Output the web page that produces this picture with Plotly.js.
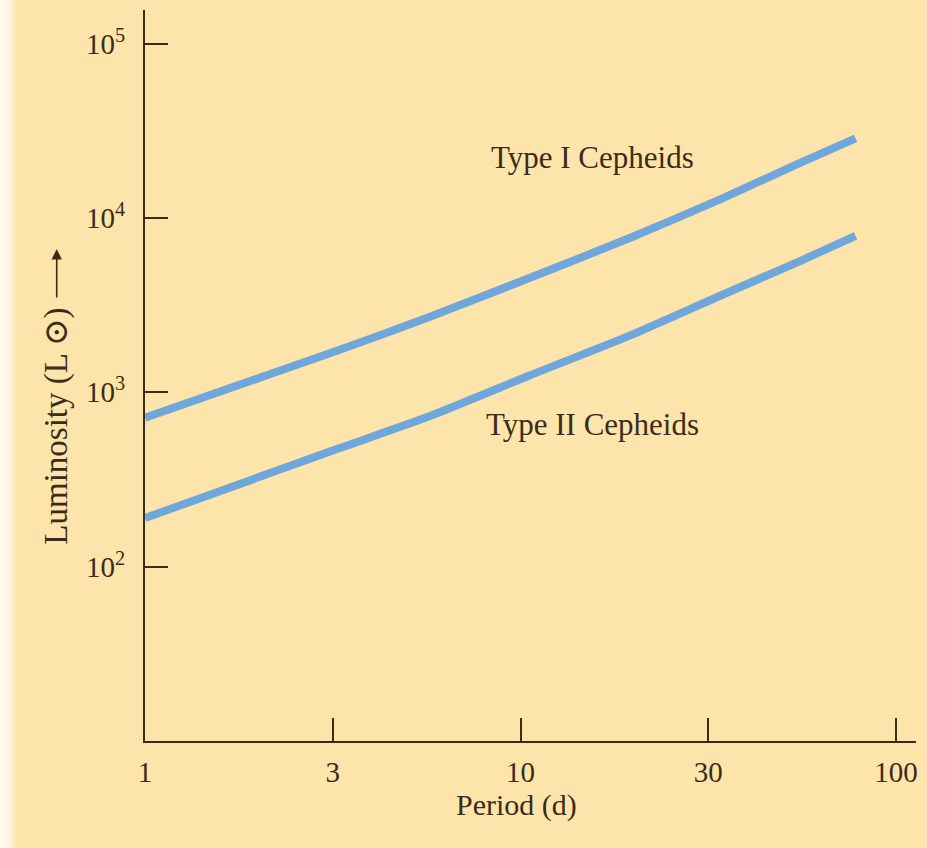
<!DOCTYPE html>
<html>
<head>
<meta charset="utf-8">
<script src="https://cdn.plot.ly/plotly-3.0.1.min.js"></script>
<style>
  html, body { margin: 0; padding: 0; }
  body { width: 927px; height: 848px; overflow: hidden;
         background: linear-gradient(to right, #fffaf1 0px, #fff6e6 9px, #fde4ab 17px, #fde4ab 100%); }
  #chart { width: 927px; height: 848px; }
</style>
</head>
<body>
<div id="chart"></div>
<script>
// Period in days
const periods = [1, 3.3, 5.74, 10.6, 19.6, 34, 55.5, 78];
// Luminosity in solar units
const typeI  = [716, 1754, 2716, 4539, 7709, 12790, 20700, 28600];
const typeII = [190, 479, 731, 1253, 2123, 3581, 5662, 7890];

const xTickVals = [1, 3.1623, 10, 31.623, 100];
const xTickText = ['1', '3', '10', '30', '100'];
const yTickVals = [100, 1000, 10000, 100000];
const yTickText = ['10<sup>2</sup>', '10<sup>3</sup>', '10<sup>4</sup>', '10<sup>5</sup>'];

const seriesNames = ['Type I Cepheids', 'Type II Cepheids'];

const lineColor = '#6fa6dc';
const inkColor = '#3b2c18';
const serif = '"Liberation Serif", "DejaVu Serif", serif';

const traces = [
  { x: periods, y: typeI, name: seriesNames[0], mode: 'lines',
    line: { color: lineColor, width: 8, shape: 'spline', smoothing: 0.6 }, hoverinfo: 'x+y' },
  { x: periods, y: typeII, name: seriesNames[1], mode: 'lines',
    line: { color: lineColor, width: 8, shape: 'spline', smoothing: 0.6 }, hoverinfo: 'x+y' }
];

const layout = {
  width: 927, height: 848,
  margin: { l: 145, r: 11, t: 10, b: 107 },
  paper_bgcolor: 'rgba(0,0,0,0)',
  plot_bgcolor: 'rgba(0,0,0,0)',
  showlegend: false,
  font: { family: serif, color: inkColor, size: 28 },
  xaxis: {
    type: 'log', range: [0, 2.053],
    showgrid: false, zeroline: false,
    showline: true, linecolor: inkColor, linewidth: 2,
    ticks: 'inside', ticklen: 23, tickwidth: 2, tickcolor: inkColor,
    tickvals: xTickVals, ticktext: xTickText,
    tickfont: { family: serif, size: 29, color: inkColor },
    ticklabelstandoff: 4
  },
  yaxis: {
    type: 'log', range: [1, 5.193],
    showgrid: false, zeroline: false,
    showline: true, linecolor: inkColor, linewidth: 2,
    ticks: 'inside', ticklen: 23, tickwidth: 2, tickcolor: inkColor,
    tickvals: yTickVals, ticktext: yTickText,
    tickfont: { family: serif, size: 29, color: inkColor },
    ticklabelstandoff: 12
  },
  annotations: [
    { xref: 'paper', yref: 'paper', x: 0.580, y: 0.7989, xanchor: 'center', yanchor: 'middle', text: seriesNames[0],
      showarrow: false, font: { family: serif, size: 31, color: inkColor } },
    { xref: 'paper', yref: 'paper', x: 0.580, y: 0.4323, xanchor: 'center', yanchor: 'middle', text: seriesNames[1],
      showarrow: false, font: { family: serif, size: 31, color: inkColor } },
    { xref: 'paper', yref: 'paper', x: 0.4815, y: -0.0875, xanchor: 'center', yanchor: 'middle', text: 'Period (d)',
      showarrow: false, font: { family: serif, size: 30, color: inkColor } },
    { xref: 'paper', yref: 'paper', x: -0.1145, y: 0.4310, xanchor: 'center', yanchor: 'middle', text: 'Luminosity (L ⊙)',
      textangle: -90, showarrow: false, font: { family: serif, size: 33, color: inkColor } },
    { xref: 'paper', yref: 'paper', x: -0.1145, y: 0.6730, ax: 0, ay: 50, text: '',
      showarrow: true, arrowhead: 2, arrowsize: 1.3, arrowwidth: 1.6, arrowcolor: inkColor }
  ]
};

Plotly.newPlot('chart', traces, layout, { displayModeBar: false, staticPlot: true });
</script>
</body>
</html>
